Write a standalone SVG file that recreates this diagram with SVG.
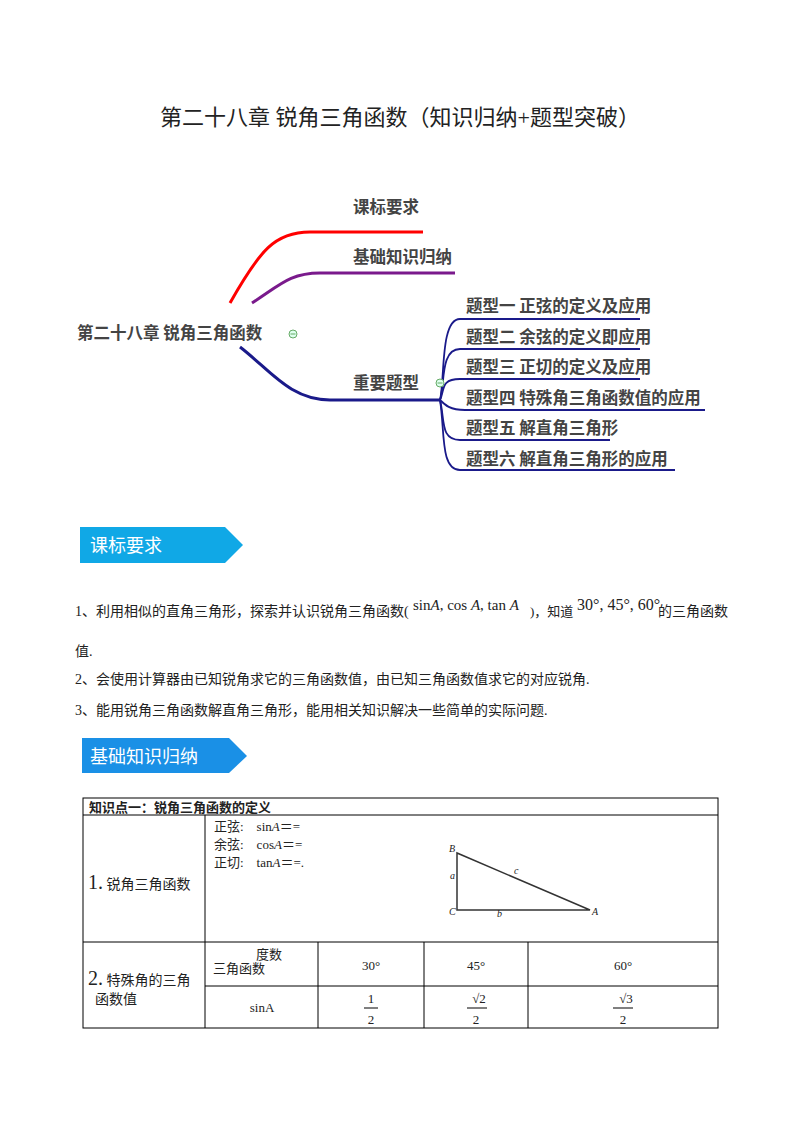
<svg xmlns="http://www.w3.org/2000/svg" width="800" height="1132" viewBox="0 0 800 1132">
<style>
.t{font-family:"Liberation Serif","Noto Sans CJK SC",serif;fill:#222}
.m{font-family:"Noto Sans CJK SC",sans-serif;font-weight:bold;fill:#444;font-size:16.5px}
.b{font-family:"Noto Sans CJK SC",sans-serif;fill:#fff;font-size:18px}
.g{fill:none;stroke:#000;stroke-width:1}
</style>
<rect width="800" height="1132" fill="#fff"/>
<text class="t" x="400" y="125" text-anchor="middle" font-size="22">第二十八章 锐角三角函数（知识归纳+题型突破）</text>
<g id="connectors" fill="none">
<path d="M230,303 C260,250 275,232 310,232 L423,232" stroke="#f00" stroke-width="3"/>
<path d="M252,303 C280,285 290,273 320,273 L455,273" stroke="#7a1a8c" stroke-width="3"/>
<path d="M240,347 C270,370 290,400 330,400 L440,400" stroke="#1a1a8a" stroke-width="3"/>
<g stroke="#1a1a8a" stroke-width="1.8">
<path d="M440,400 C445,380 440,319 460,319 L640,319"/>
<path d="M440,400 C445,385 440,349 460,349 L640,349"/>
<path d="M440,400 C445,390 440,379 460,379 L640,379"/>
<path d="M440,400 C445,405 450,410 465,410 L705,410"/>
<path d="M440,400 C445,420 440,440 460,440 L610,440"/>
<path d="M440,400 C445,430 440,470 460,470 L675,470"/>
</g>
</g>
<g id="root"><text class="m" x="77" y="339">第二十八章 锐角三角函数</text>
<circle cx="293" cy="334" r="4" fill="#dfe" stroke="#6a6" stroke-width="1"/><line x1="290.5" y1="334" x2="295.5" y2="334" stroke="#6a6"/></g>
<g id="n1"><text class="m" x="353" y="213">课标要求</text></g>
<g id="n2"><text class="m" x="353" y="263">基础知识归纳</text></g>
<g id="n3"><text class="m" x="353" y="389">重要题型</text>
<circle cx="440" cy="383" r="4" fill="#dfe" stroke="#6a6" stroke-width="1"/><line x1="437.5" y1="383" x2="442.5" y2="383" stroke="#6a6"/></g>
<g id="s1"><text class="m" x="466" y="312">题型一 正弦的定义及应用</text></g>
<g id="s2"><text class="m" x="466" y="343">题型二 余弦的定义即应用</text></g>
<g id="s3"><text class="m" x="466" y="373">题型三 正切的定义及应用</text></g>
<g id="s4"><text class="m" x="466" y="404">题型四 特殊角三角函数值的应用</text></g>
<g id="s5"><text class="m" x="466" y="434">题型五 解直角三角形</text></g>
<g id="s6"><text class="m" x="466" y="465">题型六 解直角三角形的应用</text></g>

<g id="banner1"><path d="M80,527 L225,527 L243,545 L225,563 L80,563 Z" fill="#10a8e6"/><text class="b" x="90" y="552">课标要求</text></g>
<g id="banner2"><path d="M82,738 L229,738 L247,756 L229,773 L82,773 Z" fill="#1a90e6"/><text class="b" x="90" y="763">基础知识归纳</text></g>

<g class="t" font-size="14">
<text x="75" y="616">1、利用相似的直角三角形，探索并认识锐角三角函数(</text>
<text x="413" y="610" font-size="15">sin<tspan font-style="italic">A</tspan>, cos <tspan font-style="italic">A</tspan>, tan <tspan font-style="italic">A</tspan></text>
<text x="530" y="616" font-size="13">)，知道</text>
<text x="577" y="610" font-size="16">30°, 45°, 60°</text>
<text x="658" y="616">的三角函数</text>
<text x="75" y="656">值.</text>
<text x="75" y="684">2、会使用计算器由已知锐角求它的三角函数值，由已知三角函数值求它的对应锐角.</text>
<text x="75" y="715">3、能用锐角三角函数解直角三角形，能用相关知识解决一些简单的实际问题.</text>
</g>

<g id="table">
<rect class="g" x="83" y="798" width="635" height="230"/>
<line class="g" x1="83" y1="815" x2="718" y2="815"/>
<line class="g" x1="83" y1="942" x2="718" y2="942"/>
<line class="g" x1="205" y1="815" x2="205" y2="1028"/>
<line class="g" x1="205" y1="986" x2="718" y2="986"/>
<line class="g" x1="318" y1="942" x2="318" y2="1028"/>
<line class="g" x1="424" y1="942" x2="424" y2="1028"/>
<line class="g" x1="528" y1="942" x2="528" y2="1028"/>
<text class="t" x="89" y="812" font-size="13" font-weight="bold">知识点一：锐角三角函数的定义</text>
<text class="t" x="214" y="831" font-size="13">正弦:　sin<tspan font-style="italic">A</tspan>＝=</text>
<text class="t" x="214" y="849" font-size="13">余弦:　cos<tspan font-style="italic">A</tspan>＝=</text>
<text class="t" x="214" y="867" font-size="13">正切:　tan<tspan font-style="italic">A</tspan>＝=.</text>
<text class="t" x="88" y="889" font-size="20">1.<tspan font-size="14"> 锐角三角函数</tspan></text>
<text class="t" x="88" y="985" font-size="20">2.<tspan font-size="14"> 特殊角的三角</tspan></text>
<text class="t" x="95" y="1004" font-size="14">函数值</text>
<path d="M457,853 L457,910 L590,910 Z" fill="none" stroke="#333" stroke-width="1.5"/>
<g class="t" font-size="10" font-style="italic"><text x="449" y="852">B</text><text x="450" y="879">a</text><text x="514" y="874">c</text><text x="449" y="915">C</text><text x="497" y="917">b</text><text x="592" y="915">A</text></g>
<text class="t" x="256" y="959" font-size="13">度数</text>
<text class="t" x="213" y="973" font-size="13">三角函数</text>
<g class="t" font-size="13" text-anchor="middle">
<text x="371" y="970">30°</text><text x="476" y="970">45°</text><text x="623" y="970">60°</text>
<text x="262" y="1012">sinA</text>
<text x="371" y="1003">1</text><line x1="364" y1="1008" x2="378" y2="1008" stroke="#000"/><text x="371" y="1024">2</text>
<text x="479" y="1003">√2</text><line x1="467" y1="1008" x2="487" y2="1008" stroke="#000"/><text x="476" y="1024">2</text>
<text x="626" y="1003">√3</text><line x1="613" y1="1008" x2="633" y2="1008" stroke="#000"/><text x="623" y="1024">2</text>
</g>
</g>
</svg>
